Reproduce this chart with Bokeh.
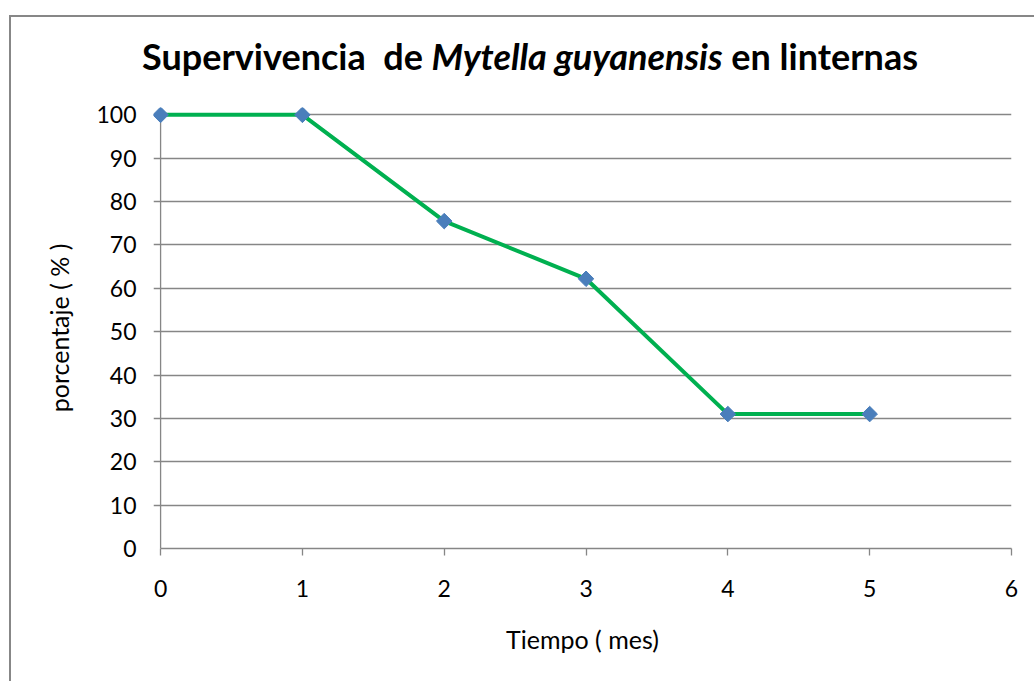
import numpy as np
from bokeh.plotting import figure
from bokeh.models import Range1d, FixedTicker, ColumnDataSource, Div
from bokeh.layouts import column
from bokeh.embed import file_html
from bokeh.resources import INLINE

# data
meses = [0, 1, 2, 3, 4, 5]
porcentaje = [100, 100, 75.5, 62.2, 31, 31]
x_ticks = [0, 1, 2, 3, 4, 5, 6]
y_ticks = [0, 10, 20, 30, 40, 50, 60, 70, 80, 90, 100]
titulo_1 = "Supervivencia&nbsp; de "
titulo_especie = "Mytella guyanensis"
titulo_2 = " en linternas"
x_label = "Tiempo ( mes)"
y_label = "porcentaje ( % )"

FONT = "Lato"
GRAY = "#868686"

title_div = Div(
    text=(f'<div style="margin-left:126px; padding-top:13px; text-align:left; '
          f'font-family:{FONT}; font-size:36px; font-weight:bold; line-height:1.2; '
          f'color:black; white-space:nowrap">{titulo_1}<i>{titulo_especie}</i>{titulo_2}</div>'),
    width=1013, height=70)

p = figure(width=1013, height=584, output_backend="svg", toolbar_location=None,
           x_range=Range1d(-0.05, 6), y_range=Range1d(0, 101.7),
           min_border_left=142, min_border_top=10, min_border_right=13, min_border_bottom=133)
p.outline_line_color = None
p.background_fill_color = "white"
p.border_fill_color = "white"

# grid
p.xgrid.visible = False
p.ygrid.ticker = FixedTicker(ticks=y_ticks)
p.ygrid.grid_line_color = GRAY
p.ygrid.grid_line_width = 1.3

# x axis
xa = p.xaxis[0]
xa.ticker = FixedTicker(ticks=x_ticks)
xa.bounds = (0, 6)
xa.axis_line_color = GRAY
xa.axis_line_width = 1.3
xa.major_tick_line_color = GRAY
xa.major_tick_line_width = 1.3
xa.major_tick_out = 7
xa.major_tick_in = 0
xa.minor_tick_line_color = None
xa.major_label_text_font = FONT
xa.major_label_text_font_size = "23px"
xa.major_label_text_color = "black"
xa.major_label_standoff = 24
xa.axis_label = x_label
xa.axis_label_text_font = FONT
xa.axis_label_text_font_size = "25px"
xa.axis_label_text_font_style = "normal"
xa.axis_label_text_color = "black"
xa.axis_label_standoff = 24

# y axis (labels at frame left; axis line drawn at x = 0)
ya = p.yaxis[0]
ya.ticker = FixedTicker(ticks=y_ticks)
ya.axis_line_color = None
ya.major_tick_line_color = None
ya.minor_tick_line_color = None
ya.major_label_text_font = FONT
ya.major_label_text_font_size = "23px"
ya.major_label_text_color = "black"
ya.major_label_standoff = 11
ya.axis_label = y_label
ya.axis_label_text_font = FONT
ya.axis_label_text_font_size = "25px"
ya.axis_label_text_font_style = "normal"
ya.axis_label_text_color = "black"
ya.axis_label_standoff = 19

p.segment(x0=[x_ticks[0]], y0=[y_ticks[0]], x1=[x_ticks[0]], y1=[y_ticks[-1]],
          line_color=GRAY, line_width=1.3)

src = ColumnDataSource(dict(x=meses, y=porcentaje))
p.line("x", "y", source=src, line_color="#00b050", line_width=4)
p.scatter("x", "y", source=src, marker="square", size=11, angle=np.pi / 4,
          fill_color="#4a7ebb", line_color="#4a7ebb")

layout = column(title_div, p, spacing=0,
                styles={"margin-left": "9px", "margin-top": "15px",
                        "border-top": "2px solid #878787", "border-left": "2px solid #878787"})

open("out.html", "w").write(file_html(layout, INLINE))
